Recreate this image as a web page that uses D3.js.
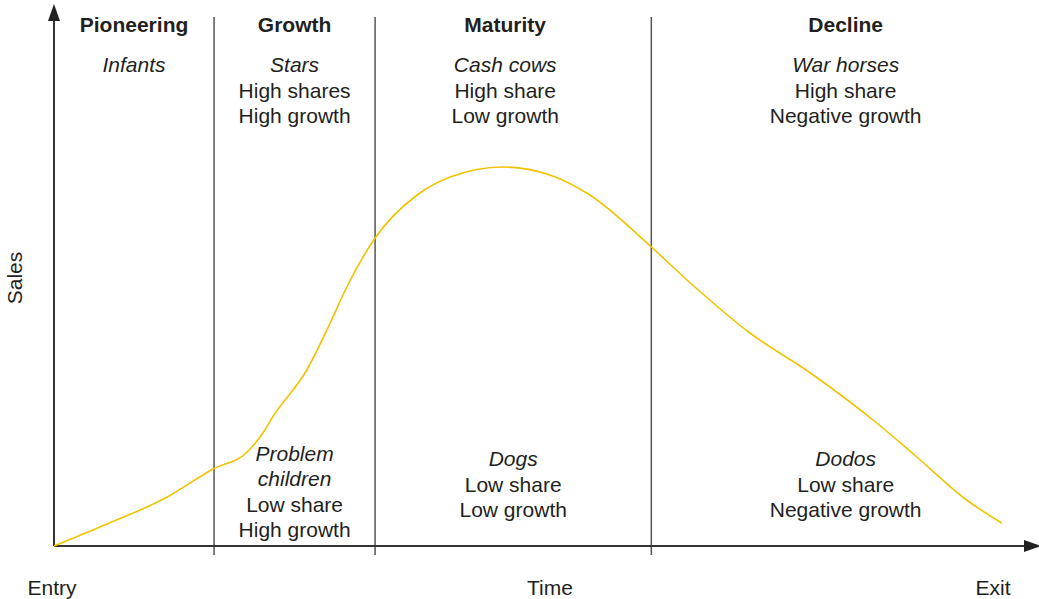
<!DOCTYPE html>
<html>
<head>
<meta charset="utf-8">
<script src="https://cdn.jsdelivr.net/npm/d3@7"></script>
<style>
  body { margin: 0; background: #fff; }
  text { font-family: "Liberation Sans", Arial, Helvetica, sans-serif; fill: #231f20; }
</style>
</head>
<body>
<div id="chart"></div>
<script>
// life cycle curve (time 0-100, sales 0-100)
const curveTime  = [0, 4.7, 11.6, 16.3, 19.8, 21.4, 22.4, 25.9, 28.3, 30.0, 32.9, 37.2, 40.6, 46.0, 50.8, 54.9, 61.2, 65.2, 71.3, 77.5, 84.3, 88.4, 93.5, 97.1];
const curveSales = [0, 3.8, 9.8, 15.4, 18.8, 22.6, 25.8, 35.2, 44.6, 51.8, 61.6, 70.2, 73.8, 75.8, 74.2, 70.2, 59.8, 52.6, 42.6, 34.6, 24.6, 17.8, 9.2, 4.6];

const stages = ["Pioneering", "Growth", "Maturity", "Decline"];
const stageBounds = [0, 16.4, 32.9, 61.2, 100];
const topLabels = [
  ["Infants"],
  ["Stars", "High shares", "High growth"],
  ["Cash cows", "High share", "Low growth"],
  ["War horses", "High share", "Negative growth"]
];
const bottomLabels = [
  [],
  ["Problem", "children", "Low share", "High growth"],
  ["Dogs", "Low share", "Low growth"],
  ["Dodos", "Low share", "Negative growth"]
];
const italicLines = [0, 2, 1, 1]; // how many leading lines are italic in bottom labels
const axisLabels = ["Entry", "Time", "Exit"];

const width = 1039, height = 599;
const svg = d3.select("#chart").append("svg")
    .attr("width", width)
    .attr("height", height);

const x = d3.scaleLinear().domain([0, 100]).range([54, 1030]);
const y = d3.scaleLinear().domain([0, 100]).range([546, 46]);

const ink = "#333";

// stage divider lines
svg.selectAll(".divider")
  .data(stageBounds.slice(1, 4))
  .enter()
  .append("line")
    .attr("x1", d => x(d)).attr("x2", d => x(d))
    .attr("y1", 17).attr("y2", 555)
    .attr("stroke", "#555")
    .attr("stroke-width", 1.5);

// axes
svg.append("line")
    .attr("x1", x(0)).attr("x2", 1028)
    .attr("y1", y(0)).attr("y2", y(0))
    .attr("stroke", ink).attr("stroke-width", 2);
svg.append("path")
    .attr("d", `M1041,${y(0)} L1024,${y(0) - 6} L1024,${y(0) + 6} Z`)
    .attr("fill", "#222");
svg.append("line")
    .attr("x1", x(0)).attr("x2", x(0))
    .attr("y1", y(0)).attr("y2", 18)
    .attr("stroke", ink).attr("stroke-width", 2);
svg.append("path")
    .attr("d", `M${x(0)},4 L${x(0) - 6},21 L${x(0) + 6},21 Z`)
    .attr("fill", "#222");

// curve
const line = d3.line()
    .x((d, i) => x(curveTime[i]))
    .y(d => y(d))
    .curve(d3.curveMonotoneX);
svg.append("path")
    .datum(curveSales)
    .attr("d", line)
    .attr("fill", "none")
    .attr("stroke", "#f2c200")
    .attr("stroke-width", 1.6);

const fs = 21;
const mid = i => (x(stageBounds[i]) + x(stageBounds[i + 1])) / 2;
// column centre for the labels of each stage
const colX = i => i === 3 ? (x(stageBounds[3]) + 1040) / 2 : mid(i);

// stage titles
svg.selectAll(".stage")
  .data(stages)
  .enter()
  .append("text")
    .attr("x", (d, i) => colX(i) - (i === 2 ? 8 : 0))
    .attr("y", 32)
    .attr("text-anchor", "middle")
    .attr("font-size", fs)
    .attr("font-weight", "bold")
    .text(d => d);

// top labels
topLabels.forEach((lines, i) => {
  const cx = colX(i) - (i === 2 ? 8 : 0);
  lines.forEach((t, j) => {
    svg.append("text")
      .attr("x", cx)
      .attr("y", 72 + j * 25.5)
      .attr("text-anchor", "middle")
      .attr("font-size", fs)
      .attr("font-style", j === 0 ? "italic" : "normal")
      .text(t);
  });
});

// bottom labels
bottomLabels.forEach((lines, i) => {
  const cx = colX(i);
  const y0 = 537 - (lines.length - 1) * 25.3 - (i === 1 ? 0 : 20);
  lines.forEach((t, j) => {
    svg.append("text")
      .attr("x", cx)
      .attr("y", y0 + j * 25.3)
      .attr("text-anchor", "middle")
      .attr("font-size", fs)
      .attr("font-style", j < italicLines[i] ? "italic" : "normal")
      .text(t);
  });
});

// axis labels
const axisX = [52, 550, 993];
svg.selectAll(".axlab")
  .data(axisLabels)
  .enter()
  .append("text")
    .attr("x", (d, i) => axisX[i])
    .attr("y", 595)
    .attr("text-anchor", "middle")
    .attr("font-size", fs)
    .text(d => d);

svg.append("text")
    .attr("transform", "translate(22,278) rotate(-90)")
    .attr("text-anchor", "middle")
    .attr("font-size", fs)
    .text("Sales");
</script>
</body>
</html>
